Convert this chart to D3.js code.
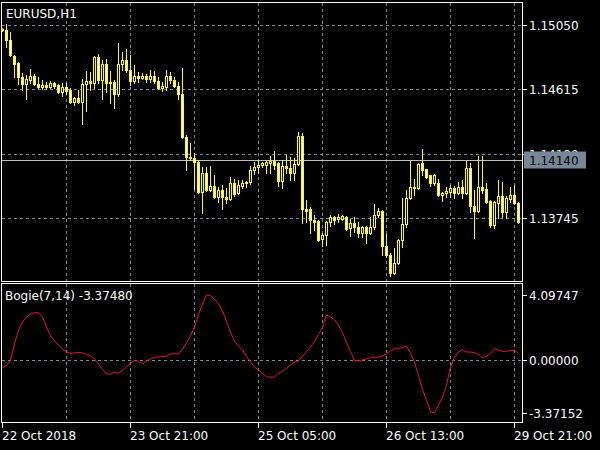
<!DOCTYPE html>
<html><head><meta charset="utf-8">
<script src="https://cdn.jsdelivr.net/npm/d3@7"></script>
<style>body{margin:0;background:#000}svg{display:block}text{font-family:"DejaVu Sans",sans-serif;font-size:12px}</style>
</head><body><svg id="c" width="600" height="450"></svg>
<script>
const symbolTitle = "EURUSD,H1";
const indicatorTitle = "Bogie(7,14) -3.37480";
const open = [1.15023,1.15016,1.14948,1.14840,1.14793,1.14699,1.14651,1.14678,1.14705,1.14651,
1.14631,1.14644,1.14631,1.14658,1.14644,1.14596,1.14631,1.14610,1.14529,1.14556,
1.14529,1.14651,1.14671,1.14658,1.14834,1.14678,1.14786,1.14658,1.14664,1.14583,
1.14786,1.14813,1.14746,1.14671,1.14705,1.14692,1.14705,1.14685,1.14705,1.14671,
1.14624,1.14631,1.14705,1.14678,1.14637,1.14583,1.14293,1.14158,1.14151,1.14123,
1.13920,1.14049,1.13934,1.13961,1.13887,1.13934,1.13887,1.13873,1.13981,1.13914,
1.13961,1.13981,1.13988,1.14069,1.14090,1.14103,1.14103,1.14117,1.14130,1.14117,
1.13995,1.14096,1.14083,1.14049,1.14110,1.14299,1.13806,1.13806,1.13731,1.13724,
1.13603,1.13630,1.13717,1.13751,1.13738,1.13738,1.13751,1.13677,1.13711,1.13684,
1.13644,1.13684,1.13644,1.13684,1.13765,1.13792,1.13555,1.13494,1.13373,1.13441,
1.13596,1.13704,1.13880,1.13954,1.13947,1.14117,1.14076,1.14035,1.13981,1.13981,
1.13900,1.13914,1.13920,1.13947,1.13914,1.13954,1.13914,1.14083,1.13826,1.13792,
1.13954,1.13941,1.13860,1.13697,1.13846,1.13894,1.13785,1.13873,1.13900,1.13846];
const high = [1.15030,1.15057,1.15002,1.14847,1.14799,1.14726,1.14712,1.14753,1.14719,1.14699,
1.14678,1.14664,1.14671,1.14664,1.14651,1.14658,1.14658,1.14624,1.14563,1.14610,
1.14685,1.14739,1.14732,1.14840,1.14854,1.14813,1.14820,1.14739,1.14678,1.14928,
1.14867,1.14888,1.14847,1.14779,1.14732,1.14726,1.14719,1.14746,1.14739,1.14699,
1.14664,1.14746,1.14732,1.14699,1.14664,1.14759,1.14306,1.14252,1.14185,1.14137,
1.14090,1.14090,1.14096,1.14035,1.13954,1.13968,1.13947,1.14022,1.14008,1.14002,
1.14002,1.13995,1.14096,1.14123,1.14137,1.14123,1.14137,1.14164,1.14198,1.14123,
1.14137,1.14171,1.14158,1.14151,1.14326,1.14320,1.13867,1.13819,1.13765,1.13731,
1.13644,1.13724,1.13765,1.13758,1.13772,1.13765,1.13758,1.13738,1.13751,1.13717,
1.13690,1.13690,1.13751,1.13839,1.13812,1.13799,1.13637,1.13508,1.13542,1.13603,
1.13880,1.13934,1.14130,1.14008,1.14117,1.14211,1.14076,1.14035,1.14042,1.14008,
1.13920,1.13954,1.13968,1.13961,1.13988,1.14002,1.14130,1.14117,1.13934,1.14164,
1.14164,1.13981,1.13867,1.13860,1.14002,1.13988,1.13894,1.13954,1.13968,1.13853];
const low = [1.15009,1.14901,1.14840,1.14699,1.14651,1.14610,1.14550,1.14658,1.14644,1.14624,
1.14617,1.14617,1.14624,1.14624,1.14590,1.14570,1.14583,1.14523,1.14509,1.14523,
1.14381,1.14468,1.14610,1.14624,1.14658,1.14550,1.14596,1.14523,1.14489,1.14570,
1.14746,1.14732,1.14644,1.14658,1.14664,1.14685,1.14664,1.14664,1.14658,1.14617,
1.14603,1.14610,1.14658,1.14631,1.14550,1.14286,1.14069,1.14137,1.13941,1.13914,
1.13779,1.13927,1.13927,1.13880,1.13853,1.13806,1.13846,1.13867,1.13894,1.13907,
1.13947,1.13954,1.13975,1.14042,1.14049,1.14090,1.14049,1.14049,1.14076,1.13961,
1.13947,1.14049,1.14002,1.14002,1.14103,1.13711,1.13717,1.13644,1.13664,1.13589,
1.13555,1.13562,1.13690,1.13704,1.13717,1.13731,1.13664,1.13623,1.13650,1.13616,
1.13616,1.13576,1.13637,1.13670,1.13751,1.13494,1.13481,1.13352,1.13366,1.13434,
1.13549,1.13684,1.13873,1.13900,1.13941,1.14035,1.14015,1.13961,1.13968,1.13894,
1.13860,1.13887,1.13887,1.13880,1.13907,1.13880,1.13907,1.13785,1.13610,1.13785,
1.13914,1.13846,1.13684,1.13677,1.13745,1.13751,1.13745,1.13853,1.13839,1.13711];
const close = [1.15016,1.14948,1.14847,1.14786,1.14699,1.14651,1.14685,1.14705,1.14651,1.14631,
1.14644,1.14631,1.14658,1.14637,1.14596,1.14631,1.14603,1.14529,1.14556,1.14529,
1.14651,1.14671,1.14658,1.14834,1.14678,1.14786,1.14658,1.14664,1.14583,1.14786,
1.14813,1.14746,1.14671,1.14705,1.14692,1.14705,1.14685,1.14705,1.14671,1.14624,
1.14637,1.14705,1.14678,1.14637,1.14583,1.14293,1.14158,1.14151,1.14123,1.13920,
1.14049,1.13934,1.13961,1.13887,1.13934,1.13887,1.13873,1.13981,1.13907,1.13968,
1.13981,1.13988,1.14069,1.14090,1.14103,1.14117,1.14123,1.14130,1.14103,1.13995,
1.14096,1.14083,1.14049,1.14110,1.14299,1.13806,1.13792,1.13731,1.13717,1.13596,
1.13630,1.13717,1.13751,1.13731,1.13751,1.13758,1.13670,1.13711,1.13684,1.13644,
1.13684,1.13644,1.13684,1.13765,1.13792,1.13555,1.13494,1.13373,1.13441,1.13596,
1.13704,1.13880,1.13954,1.13947,1.14110,1.14069,1.14022,1.13981,1.14035,1.13900,
1.13914,1.13927,1.13947,1.13914,1.13954,1.13914,1.14083,1.13826,1.13792,1.13954,
1.13934,1.13853,1.13697,1.13853,1.13894,1.13785,1.13880,1.13900,1.13846,1.13717];
const bogie = [-0.506,-0.380,-0.032,0.981,1.867,2.373,2.690,2.880,2.962,2.962,
2.690,2.057,1.487,1.203,0.918,0.665,0.475,0.392,0.424,0.456,
0.424,0.323,0.222,0.019,-0.285,-0.614,-0.918,-0.918,-0.804,-0.867,
-0.684,-0.475,-0.222,-0.076,-0.108,-0.259,-0.114,0.032,0.139,0.165,
0.190,0.215,0.335,0.380,0.348,0.665,1.044,1.487,2.057,2.861,
3.513,4.09747,4.040,3.829,3.525,3.089,2.405,1.741,1.171,0.854,
0.601,0.209,-0.158,-0.494,-0.652,-0.899,-1.070,-1.127,-1.108,-0.854,
-0.715,-0.563,-0.348,-0.177,-0.095,0.222,0.506,0.791,1.158,1.589,
2.025,2.820,2.709,2.500,2.171,1.703,1.089,0.494,-0.063,-0.076,
-0.019,0.038,0.139,0.139,0.139,0.234,0.354,0.525,0.690,0.715,
0.747,0.854,0.392,-0.158,-1.019,-1.886,-2.614,-3.300,-3.37152,-2.880,
-2.373,-1.633,-0.456,0.139,0.475,0.620,0.475,0.475,0.443,0.316,
0.114,0.203,0.386,0.709,0.601,0.519,0.525,0.570,0.589,0.380];
const priceTicks = [1.15050, 1.14615, 1.14180, 1.13745];
const priceTickLabels = ["1.15050", "1.14615", "1.14180", "1.13745"];
const bidPrice = 1.14140;
const bidLabel = "1.14140";
const bogieTicks = [4.09747, 0, -3.37152];
const bogieTickLabels = ["4.09747", "0.00000", "-3.37152"];
const timeLabels = ["22 Oct 2018", "23 Oct 21:00", "25 Oct 05:00", "26 Oct 13:00", "29 Oct 21:00"];
const timeLabelBars = [0, 32, 64, 96, 128];
const gridBars = [16, 32, 48, 64, 80, 96, 112, 128];

const svg = d3.select("#c");
svg.append("rect").attr("width", 600).attr("height", 450).attr("fill", "#000");
const n = open.length;
const x = d3.scaleLinear().domain([0, n - 1]).range([2, 2 + 4 * (n - 1)]);
const y = d3.scaleLinear().domain([1.13745, 1.15050]).range([218, 25]);
const yi = d3.scaleLinear().domain([-3.37152, 4.09747]).range([412.8, 294.8]);
const px = v => Math.round(v) + 0.5;
const gridCol = "#778899", dash = "3,3";
const L = 2, R = 522, mainTop = 2, mainBot = 281, indTop = 283, indBot = 422;

const defs = svg.append("defs");
defs.append("clipPath").attr("id", "cm").append("rect").attr("x", L).attr("y", mainTop + 1).attr("width", R - L).attr("height", mainBot - mainTop - 1);
defs.append("clipPath").attr("id", "ci").append("rect").attr("x", L).attr("y", indTop + 1).attr("width", R - L).attr("height", indBot - indTop - 1);

const g = svg.append("g").attr("shape-rendering", "crispEdges");
// grid main
g.selectAll(".hg").data(priceTicks).join("line")
  .attr("x1", L).attr("x2", R).attr("y1", d => px(y(d))).attr("y2", d => px(y(d)))
  .attr("stroke", gridCol).attr("stroke-dasharray", dash);
g.selectAll(".vg").data(gridBars).join("line")
  .attr("x1", d => px(x(d))).attr("x2", d => px(x(d))).attr("y1", mainTop + 1).attr("y2", mainBot)
  .attr("stroke", gridCol).attr("stroke-dasharray", dash);
// grid indicator
g.append("g").selectAll("line").data(gridBars).join("line")
  .attr("x1", d => px(x(d))).attr("x2", d => px(x(d))).attr("y1", indTop + 1).attr("y2", indBot)
  .attr("stroke", gridCol).attr("stroke-dasharray", dash);
g.append("line").attr("x1", L).attr("x2", R).attr("y1", px(yi(0))).attr("y2", px(yi(0)))
  .attr("stroke", gridCol).attr("stroke-dasharray", dash);

// bid line
g.append("line").attr("x1", L).attr("x2", R).attr("y1", px(y(bidPrice))).attr("y2", px(y(bidPrice)))
  .attr("stroke", "#c0c0c0");

// candles
const idx = d3.range(n);
const cg = g.append("g").attr("clip-path", "url(#cm)");
cg.selectAll(".wick").data(idx).join("line")
  .attr("x1", i => x(i) + 0.5).attr("x2", i => x(i) + 0.5)
  .attr("y1", i => Math.round(y(high[i]))).attr("y2", i => Math.round(y(low[i])) + 1)
  .attr("stroke", "#ffff00");
cg.selectAll(".body").data(idx).join("rect")
  .attr("x", i => x(i) - 0.5).attr("width", 2)
  .attr("y", i => Math.round(y(Math.max(open[i], close[i]))) + 0.5)
  .attr("height", i => Math.max(0, Math.round(y(Math.min(open[i], close[i]))) - Math.round(y(Math.max(open[i], close[i])))))
  .attr("fill", i => close[i] >= open[i] ? "#000" : "#fff")
  .attr("stroke", "#ffff00");

// indicator line
svg.append("path").attr("clip-path", "url(#ci)")
  .datum(idx)
  .attr("d", d3.line().x(i => x(i) + 0.5).y(i => yi(bogie[i])))
  .attr("fill", "none").attr("stroke", "#e8103c").attr("stroke-width", 1);

// frames
const fr = g.append("g").attr("stroke", "#fff").attr("fill", "none");
fr.append("rect").attr("x", L - 0.5).attr("y", mainTop + 0.5).attr("width", R - L + 1).attr("height", mainBot - mainTop);
fr.append("rect").attr("x", L - 0.5).attr("y", indTop + 0.5).attr("width", R - L + 1).attr("height", indBot - indTop);

// right axis ticks/labels
const ax = svg.append("g");
ax.selectAll(".pt").data(priceTicks).join("line").attr("shape-rendering", "crispEdges")
  .attr("x1", R + 1).attr("x2", R + 5).attr("y1", d => px(y(d))).attr("y2", d => px(y(d))).attr("stroke", "#fff");
ax.selectAll(".pl").data(priceTicks).join("text")
  .attr("x", R + 7).attr("y", d => px(y(d))).attr("dy", "0.36em").attr("fill", "#fff")
  .text((d, i) => priceTickLabels[i]);
ax.selectAll(".bt").data(bogieTicks).join("line").attr("shape-rendering", "crispEdges")
  .attr("x1", R + 1).attr("x2", R + 5).attr("y1", d => px(yi(d))).attr("y2", d => px(yi(d))).attr("stroke", "#fff");
ax.selectAll(".bl").data(bogieTicks).join("text")
  .attr("x", R + 7).attr("y", d => px(yi(d))).attr("dy", "0.36em").attr("fill", "#fff")
  .text((d, i) => bogieTickLabels[i]);
// bid label box
const by = px(y(bidPrice));
ax.append("rect").attr("x", R + 2).attr("y", by - 9).attr("width", 62).attr("height", 17).attr("fill", "#778899");
ax.append("text").attr("x", R + 7).attr("y", by).attr("dy", "0.36em").attr("fill", "#000").text(bidLabel);

// time axis
ax.selectAll(".tt").data(timeLabelBars).join("line").attr("shape-rendering", "crispEdges")
  .attr("x1", d => px(x(d))).attr("x2", d => px(x(d))).attr("y1", indBot + 1).attr("y2", indBot + 6).attr("stroke", "#fff");
ax.selectAll(".tl").data(timeLabelBars).join("text")
  .attr("x", d => x(d)).attr("y", 440).attr("fill", "#fff")
  .text((d, i) => timeLabels[i]);

// titles
svg.append("text").attr("x", 6).attr("y", 18).attr("fill", "#fff").text(symbolTitle);
svg.append("text").attr("x", 5).attr("y", 300).attr("fill", "#fff").text(indicatorTitle);
</script></body></html>
